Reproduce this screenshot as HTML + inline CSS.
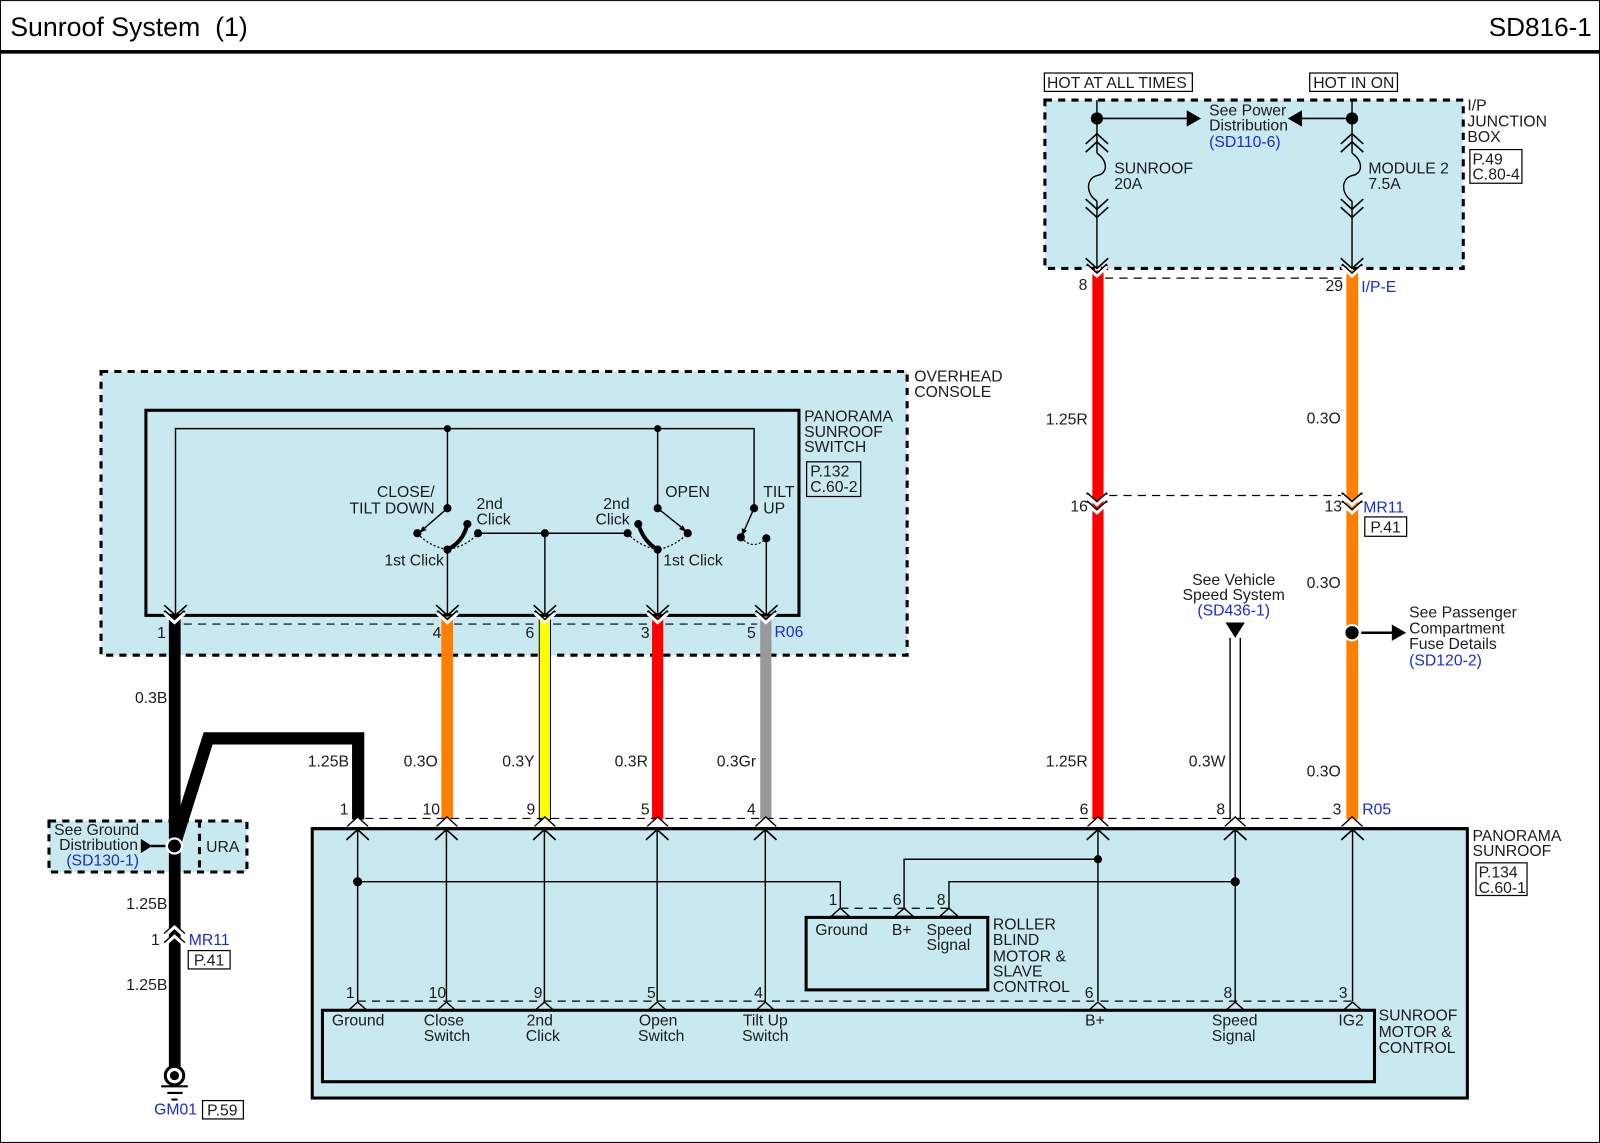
<!DOCTYPE html>
<html><head><meta charset="utf-8"><title>Sunroof System (1)</title>
<style>
html,body{margin:0;padding:0;background:#fff;width:1600px;height:1143px;overflow:hidden}
svg{display:block}
text{font-family:"Liberation Sans",Arial,sans-serif;font-size:15.45px;fill:#1c1c1c;white-space:pre}
.b{fill:#1c2ccc}
.m{text-anchor:middle}
.e{text-anchor:end}
.t{font-size:25.6px;fill:#000}
.k{fill:#000;stroke:none}
.l{fill:none;stroke:#000;stroke-width:1.4}
.box{fill:#c9e9f1;stroke:#000;stroke-width:3}
.dash{fill:#c9e9f1;stroke:#000;stroke-width:3;stroke-dasharray:7 6}
.d{fill:none;stroke:#000;stroke-width:1.2;stroke-dasharray:8 6}
</style></head><body>
<svg width="1600" height="1143" viewBox="0 0 1568 1120" xmlns="http://www.w3.org/2000/svg">
<defs>
<path id="cu" d="M-11,10 L0,0 L11,10" fill="none" stroke="#000" stroke-width="1.6"/>
<path id="cd" d="M-11,-10 L0,0 L11,-10" fill="none" stroke="#000" stroke-width="1.6"/>
<g id="vd"><path d="M-10,-9 L0,0 L10,-9" fill="none" stroke="#000" stroke-width="2.2"/><path d="M-10,-6.500 L0,2.500 L10,-6.500" fill="none" stroke="#fff" stroke-width="3"/></g>
<g id="vu"><path d="M-10,9 L0,0 L10,9" fill="none" stroke="#000" stroke-width="2"/><path d="M-10,11.500 L0,2.500 L10,11.500" fill="none" stroke="#fff" stroke-width="3"/></g>
<path id="ru" d="M-9,8 L0,0 L9,8 Z" fill="#c9e9f1" stroke="#000" stroke-width="1.4"/>
</defs>

<rect x="0.5" y="0.5" width="1567" height="1119" fill="#fff" stroke="#000" stroke-width="1"/>
<rect x="0" y="49" width="1568" height="3.500" fill="#000"/>
<text class="t" x="10" y="35" style="font-size:26.2px">Sunroof System  (1)</text>
<text class="t e" x="1560" y="35">SD816-1</text>

<!-- Junction box -->
<rect class="dash" x="1024" y="98" width="410" height="165"/>
<rect x="1023.500" y="71.500" width="145" height="18" fill="#fff" stroke="#000" stroke-width="1.2"/>
<rect x="1283.500" y="71.500" width="86" height="18" fill="#fff" stroke="#000" stroke-width="1.2"/>
<text x="1026" y="86" style="letter-spacing:.1px">HOT AT ALL TIMES</text>
<text x="1287" y="86">HOT IN ON</text>
<text x="1438" y="108">I/P</text><text x="1438" y="124">JUNCTION</text><text x="1438" y="139">BOX</text>
<rect x="1440.500" y="146.500" width="51" height="33" fill="#fff" stroke="#000" stroke-width="1.2"/>
<text x="1443" y="161">P.49</text><text x="1443" y="176">C.80-4</text>
<text x="1185" y="113">See Power</text><text x="1185" y="128">Distribution</text><text class="b" x="1185" y="144">(SD110-6)</text>
<path class="l" d="M1075,98V150M1075,197V263M1325,98V150M1325,197V263"/>
<path class="l" d="M1075,150C1086,158 1086,170 1075,172C1064,175 1064,190 1075,197"/>
<path class="l" d="M1325,150C1336,158 1336,170 1325,172C1314,175 1314,190 1325,197"/>
<circle class="k" cx="1075" cy="116" r="6"/><circle class="k" cx="1325" cy="116" r="6"/>
<path d="M1075,116H1165M1325,116H1272" stroke="#000" stroke-width="1.700" fill="none"/>
<path class="k" d="M1177,116L1163,108V124ZM1262,116L1276,108V124Z"/>
<use href="#cu" x="1075" y="131"/><use href="#cu" x="1075" y="139"/><use href="#cu" x="1325" y="131"/><use href="#cu" x="1325" y="139"/>
<use href="#cd" x="1075" y="205"/><use href="#cd" x="1075" y="213"/><use href="#cd" x="1325" y="205"/><use href="#cd" x="1325" y="213"/>
<text x="1092" y="170">SUNROOF</text><text x="1092" y="185">20A</text>
<text x="1341" y="170">MODULE 2</text><text x="1341" y="185">7.5A</text>

<!-- Right vertical wires -->
<rect x="1070.500" y="265" width="11" height="538" fill="#f00"/>
<rect x="1319.500" y="265" width="11.500" height="538" fill="#ff8000"/>
<use href="#cd" x="1075" y="263"/><use href="#cd" x="1325" y="263"/>
<use href="#vd" x="1075" y="268"/><use href="#vd" x="1325" y="268"/>
<path class="d" d="M1083,272.500H1318"/>
<text x="1057" y="284">8</text><text x="1299" y="285">29</text><text class="b" x="1334" y="286">I/P-E</text>
<text class="e" x="1066" y="416">1.25R</text><text class="e" x="1314" y="415">0.3O</text>
<path class="d" d="M1087,485.500H1314"/>
<use href="#vd" x="1075" y="492"/><use href="#vd" x="1325" y="492"/><use href="#vd" x="1075" y="500"/><use href="#vd" x="1325" y="500"/>
<text x="1049" y="501">16</text><text x="1298" y="501">13</text><text class="b" x="1336" y="502">MR11</text>
<rect x="1337.500" y="506.500" width="41" height="19" fill="#fff" stroke="#000" stroke-width="1.2"/><text x="1343" y="522">P.41</text>
<text class="e" x="1314" y="576">0.3O</text><text class="e" x="1314" y="761">0.3O</text><text class="e" x="1066" y="751">1.25R</text>
<circle cx="1325" cy="620" r="8.500" fill="#fff"/><circle class="k" cx="1325" cy="620" r="6.500"/>
<path d="M1334,620H1366" stroke="#000" stroke-width="2.4"/><path class="k" d="M1378,620L1364,612V628Z"/>
<text x="1381" y="605">See Passenger</text><text x="1381" y="621">Compartment</text><text x="1381" y="636">Fuse Details</text><text class="b" x="1381" y="652">(SD120-2)</text>
<text class="m" x="1209" y="573">See Vehicle</text><text class="m" x="1209" y="588">Speed System</text><text class="b m" x="1209" y="603">(SD436-1)</text>
<path class="k" d="M1201,610H1220L1210.500,625Z"/>
<path class="l" d="M1205.500,625V803M1215.500,625V803"/>
<text class="e" x="1201" y="751">0.3W</text>

<!-- Overhead console -->
<rect class="dash" x="99" y="364" width="790" height="278"/>
<text x="896" y="374">OVERHEAD</text><text x="896" y="389">CONSOLE</text>
<rect x="143" y="402" width="640" height="201" fill="none" stroke="#000" stroke-width="3"/>
<text x="788" y="413">PANORAMA</text><text x="788" y="428">SUNROOF</text><text x="788" y="443">SWITCH</text>
<rect x="790.500" y="452.500" width="53" height="34" fill="none" stroke="#000" stroke-width="1.2"/>
<text x="794" y="467">P.132</text><text x="794" y="482">C.60-2</text>
<path class="l" d="M172,603V420H739V498M438.500,420V498M644.500,420V498"/>
<circle class="k" cx="438.500" cy="420" r="3.500"/><circle class="k" cx="644.500" cy="420" r="3.500"/>
<!-- switch contacts -->
<circle class="k" cx="438.500" cy="498" r="4"/><circle class="k" cx="409" cy="522.500" r="4"/><circle class="k" cx="438.500" cy="538.500" r="4"/><circle class="k" cx="458" cy="513.500" r="4"/><circle class="k" cx="468.500" cy="522.500" r="4"/>
<circle class="k" cx="534" cy="522.500" r="4"/><circle class="k" cx="615" cy="522.500" r="4"/><circle class="k" cx="625.500" cy="513.500" r="4"/><circle class="k" cx="644.500" cy="538.500" r="4"/><circle class="k" cx="644.500" cy="498" r="4"/><circle class="k" cx="674" cy="522.500" r="4"/>
<circle class="k" cx="739" cy="498" r="4"/><circle class="k" cx="726" cy="526.500" r="4"/><circle class="k" cx="751" cy="527.500" r="4"/>
<path class="l" d="M438.500,498L412,521M644.500,498L672,520M739,498L727.500,524M468.500,522.500H615M534,522.500V603M438.500,538.500V603M644.500,538.500V603M751,527.500V603"/>
<path class="k" d="M411,522L414.500,515.500L418,519.500ZM673,521.500L665.500,518.500L669,514.500ZM727,525L727,517.500L732,520Z"/>
<path d="M438.500,538.500Q454,531 458,513.500M644.500,538.500Q631,531 625.500,513.500" fill="none" stroke="#000" stroke-width="4"/>
<path d="M409,522.500Q420,535 438.500,538.500Q458,535 468.500,522.500M615,522.500Q626,535 644.500,538.500Q662,535 674,522.500M726,526.500Q738,540 751,527.500" fill="none" stroke="#000" stroke-width="1.200" stroke-dasharray="2 2"/>
<text class="e" x="426" y="487">CLOSE/</text><text class="e" x="426" y="503">TILT DOWN</text>
<text x="467" y="499">2nd</text><text x="467" y="514">Click</text>
<text class="e" x="617" y="499">2nd</text><text class="e" x="617" y="514">Click</text>
<text x="652" y="487">OPEN</text>
<text x="748" y="487">TILT</text><text x="748" y="503">UP</text>
<text class="e" x="435" y="554">1st Click</text><text x="650" y="554">1st Click</text>

<!-- Ground area background -->
<rect class="dash" x="48" y="804.500" width="194" height="50"/>
<path d="M195.500,804V855" stroke="#000" stroke-width="3" stroke-dasharray="7 6"/>

<!-- colored wires -->
<rect x="432.500" y="604" width="11.500" height="199" fill="#ff8000"/>
<rect x="528.500" y="604" width="11" height="199" fill="#ff0" stroke="#000" stroke-width="1"/>
<rect x="639" y="604" width="11" height="199" fill="#f00"/>
<rect x="745" y="604" width="11" height="199" fill="#999"/>
<rect x="165.500" y="604" width="11.500" height="442" fill="#000"/>
<path d="M171,828L204,723.500H351V803" fill="none" stroke="#000" stroke-width="12" stroke-linejoin="miter"/>
<path class="d" d="M180,611.500H425M445,611.500H525M542,611.500H636M652,611.500H742"/>
<use href="#cd" x="172" y="603"/><use href="#cd" x="438.500" y="603"/><use href="#cd" x="534" y="603"/><use href="#cd" x="644.500" y="603"/><use href="#cd" x="751" y="603"/>
<use href="#vd" x="171" y="607.500"/><use href="#vd" x="438.500" y="607.500"/><use href="#vd" x="534" y="607.500"/><use href="#vd" x="644.500" y="607.500"/><use href="#vd" x="750.500" y="607.500"/>
<text x="154" y="625">1</text><text x="424" y="625">4</text><text x="515" y="625">6</text><text x="628" y="625">3</text><text x="732" y="625">5</text><text class="b" x="759" y="624">R06</text>
<text class="e" x="164" y="689">0.3B</text><text class="e" x="429" y="751">0.3O</text><text class="e" x="524" y="751">0.3Y</text><text class="e" x="635" y="751">0.3R</text><text class="e" x="741" y="751">0.3Gr</text><text class="e" x="342" y="751">1.25B</text>

<!-- Ground details -->
<circle cx="171" cy="829" r="8.500" fill="#fff"/><circle cx="171" cy="829" r="6.300" fill="#000"/>
<path d="M148,829H162" stroke="#000" stroke-width="2.400"/><path class="k" d="M149,829L138,822V836Z"/>
<text x="53" y="818">See Ground</text><text x="58" y="833">Distribution</text><text class="b" x="65" y="848">(SD130-1)</text>
<text x="202" y="835">URA</text>
<text class="e" x="164" y="891">1.25B</text><text class="e" x="164" y="970">1.25B</text>
<text x="148" y="926">1</text><text class="b" x="185" y="926">MR11</text>
<use href="#vu" x="171" y="906"/><use href="#vu" x="171" y="915"/>
<rect x="184.500" y="931.500" width="41" height="18" fill="#fff" stroke="#000" stroke-width="1.200"/><text x="190" y="946">P.41</text>
<circle cx="171" cy="1054" r="9" fill="#fff" stroke="#000" stroke-width="3"/><circle class="k" cx="171" cy="1054" r="4.500"/>
<path d="M158,1064.500H184M164,1071H179M168,1077.500H174" stroke="#000" stroke-width="2"/>
<text class="b" x="151" y="1092">GM01</text>
<rect x="198.500" y="1078.500" width="40" height="18" fill="#fff" stroke="#000" stroke-width="1.200"/><text x="203" y="1093">P.59</text>

<!-- Panorama sunroof -->
<path class="d" d="M358,802H1305"/>
<rect class="box" x="306" y="812" width="1132" height="264"/>
<text x="1443" y="824">PANORAMA</text><text x="1443" y="839">SUNROOF</text>
<rect x="1446.500" y="845.500" width="50" height="32" fill="none" stroke="#000" stroke-width="1.200"/>
<text x="1449" y="860">P.134</text><text x="1449" y="875">C.60-1</text>
<text x="333" y="798">1</text><text x="414" y="798">10</text><text x="516" y="798">9</text><text x="628" y="798">5</text><text x="732" y="798">4</text><text x="1058" y="798">6</text><text x="1192" y="798">8</text><text x="1306" y="798">3</text><text class="b" x="1335" y="798">R05</text>
<use href="#vu" x="350.500" y="801"/><use href="#vu" x="438" y="801"/><use href="#vu" x="534" y="801"/><use href="#vu" x="644.500" y="801"/><use href="#vu" x="750.500" y="801"/><use href="#vu" x="1076" y="801"/><use href="#vu" x="1210.500" y="801"/><use href="#vu" x="1325" y="801"/>
<rect x="306" y="810.500" width="1132" height="3" fill="#000"/>
<path class="l" d="M350.500,813V981M437.500,813V981M533.500,813V981M644,813V981M750,813V981M1076,813V981M1210.500,813V981M1325.500,813V981"/>
<use href="#cu" x="350.500" y="813"/><use href="#cu" x="437.500" y="813"/><use href="#cu" x="533.500" y="813"/><use href="#cu" x="644" y="813"/><use href="#cu" x="750" y="813"/><use href="#cu" x="1076" y="813"/><use href="#cu" x="1210.500" y="813"/><use href="#cu" x="1325.500" y="813"/>
<path class="l" d="M350.500,864H823.500V890M886,890V842H1076M930,890V864H1210.500"/>
<circle class="k" cx="350.500" cy="864" r="4.500"/><circle class="k" cx="1076" cy="842" r="4"/><circle class="k" cx="1210.500" cy="864" r="4.500"/>
<path class="d" d="M823.500,890H930"/>
<use href="#ru" x="823.500" y="890"/><use href="#ru" x="886" y="890"/><use href="#ru" x="930" y="890"/>
<text x="812" y="887">1</text><text x="875" y="887">6</text><text x="918" y="887">8</text>
<rect x="790" y="899" width="178" height="71" fill="none" stroke="#000" stroke-width="3"/>
<text x="799" y="916">Ground</text><text x="874" y="916">B+</text><text x="908" y="916">Speed</text><text x="908" y="931">Signal</text>
<text x="973" y="911">ROLLER</text><text x="973" y="926">BLIND</text><text x="973" y="942">MOTOR &amp;</text><text x="973" y="957">SLAVE</text><text x="973" y="972">CONTROL</text>

<path class="d" d="M350.500,981H1325"/>
<use href="#ru" x="350.500" y="982"/><use href="#ru" x="437.500" y="982"/><use href="#ru" x="533.500" y="982"/><use href="#ru" x="644" y="982"/><use href="#ru" x="750" y="982"/><use href="#ru" x="1076" y="982"/><use href="#ru" x="1210.500" y="982"/><use href="#ru" x="1325.500" y="982"/>
<text x="339" y="978">1</text><text x="420" y="978">10</text><text x="523" y="978">9</text><text x="634" y="978">5</text><text x="739" y="978">4</text><text x="1063" y="978">6</text><text x="1199" y="978">8</text><text x="1312" y="978">3</text>
<rect x="316" y="990" width="1031" height="70" fill="none" stroke="#000" stroke-width="3"/>
<text class="m" x="351" y="1005">Ground</text>
<text class="m" x="435" y="1005">Close</text><text class="m" x="438" y="1020">Switch</text>
<text class="m" x="529" y="1005">2nd</text><text class="m" x="532" y="1020">Click</text>
<text class="m" x="645" y="1005">Open</text><text class="m" x="648" y="1020">Switch</text>
<text class="m" x="750" y="1005">Tilt Up</text><text class="m" x="750" y="1020">Switch</text>
<text class="m" x="1073" y="1005">B+</text>
<text class="m" x="1210" y="1005">Speed</text><text class="m" x="1209" y="1020">Signal</text>
<text class="m" x="1324" y="1005">IG2</text>
<text x="1351" y="1000">SUNROOF</text><text x="1351" y="1016">MOTOR &amp;</text><text x="1351" y="1032">CONTROL</text>
</svg>
</body></html>
